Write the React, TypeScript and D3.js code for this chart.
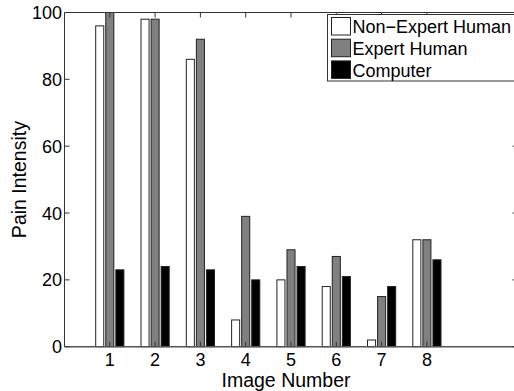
import React from "react";
import * as d3 from "d3";

const categories = [1, 2, 3, 4, 5, 6, 7, 8];
const nonExpert = [96, 98, 86, 8, 20, 18, 2, 32];
const expert = [100, 98, 92, 39, 29, 27, 15, 32];
const computer = [23, 24, 23, 20, 24, 21, 18, 26];
const seriesNames = ["Non\u2212Expert Human", "Expert Human", "Computer"];
const seriesColors = ["#ffffff", "#808080", "#000000"];
const yTicks = [0, 20, 40, 60, 80, 100];
const xTicks = [1, 2, 3, 4, 5, 6, 7, 8];

const W = 514;
const H = 391;
const L = 64.5, R = 517.5, T = 12.5, B = 346.7;
const FONT = "'Liberation Sans', Arial, Helvetica, sans-serif";
const AX = "#333";

export default function App() {
  const x = d3.scaleLinear().domain([0, 10]).range([L, R]);
  const y = d3.scaleLinear().domain([0, 100]).range([B, T]);
  const series = [nonExpert, expert, computer];
  const n = series.length;
  const groupWidth = Math.min(0.8, n / (n + 1.5));
  const step = groupWidth / n;
  const barW = step * 0.8;
  const tickLen = 5;

  return (
    <svg
      width={W}
      height={H}
      style={{ position: "absolute", left: 0, top: 0, background: "#fff" }}
      fontFamily={FONT}
    >
      <rect x={0} y={0} width={W} height={H} fill="#fff" />
      {series.map((vals, si) =>
        vals.map((v, ci) => {
          const cx = categories[ci] + (si - (n - 1) / 2) * step;
          const x0 = x(cx - barW / 2);
          const x1 = x(cx + barW / 2);
          return (
            <rect
              key={`${si}-${ci}`}
              x={x0}
              y={y(v)}
              width={x1 - x0}
              height={y(0) - y(v)}
              fill={seriesColors[si]}
              stroke="#222"
              strokeWidth={1}
            />
          );
        })
      )}
      {/* axes box */}
      <line x1={L} x2={L} y1={T} y2={B} stroke={AX} strokeWidth={1} />
      <line x1={R} x2={R} y1={T} y2={B} stroke={AX} strokeWidth={1} />
      <line x1={L} x2={R} y1={T} y2={T} stroke={AX} strokeWidth={1} />
      <line x1={L} x2={R} y1={B} y2={B} stroke="#555" strokeWidth={1.5} />
      {/* y ticks */}
      {yTicks.map((t) => (
        <g key={`y${t}`}>
          <line x1={L} x2={L + tickLen} y1={y(t)} y2={y(t)} stroke={AX} />
          <line x1={R} x2={R - tickLen} y1={y(t)} y2={y(t)} stroke={AX} />
          <text
            x={L - 2.5}
            y={y(t)}
            dy="0.36em"
            textAnchor="end"
            fontSize={18}
            fill="#000"
          >
            {t}
          </text>
        </g>
      ))}
      {/* x ticks */}
      {xTicks.map((t) => (
        <g key={`x${t}`}>
          <line x1={x(t)} x2={x(t)} y1={B} y2={B - tickLen} stroke={AX} />
          <line x1={x(t)} x2={x(t)} y1={T} y2={T + tickLen} stroke={AX} />
          <text x={x(t)} y={366} textAnchor="middle" fontSize={18} fill="#000">
            {t}
          </text>
        </g>
      ))}
      <text x={286} y={386.5} textAnchor="middle" fontSize={19.5} fill="#000">
        Image Number
      </text>
      <text
        transform={`translate(25.5, ${(T + B) / 2}) rotate(-90)`}
        textAnchor="middle"
        fontSize={19.5}
        fill="#000"
      >
        Pain Intensity
      </text>
      {/* legend */}
      <rect x={327.5} y={14.5} width={200} height={66.5} fill="#fff" stroke={AX} strokeWidth={1} />
      {seriesNames.map((name, i) => (
        <g key={name}>
          <rect
            x={331.5}
            y={17.5 + i * 21.7}
            width={19}
            height={17.5}
            fill={seriesColors[i]}
            stroke="#222"
            strokeWidth={1}
          />
          <text x={352.5} y={33.3 + i * 21.7} fontSize={18} fill="#000">
            {name}
          </text>
        </g>
      ))}
    </svg>
  );
}
